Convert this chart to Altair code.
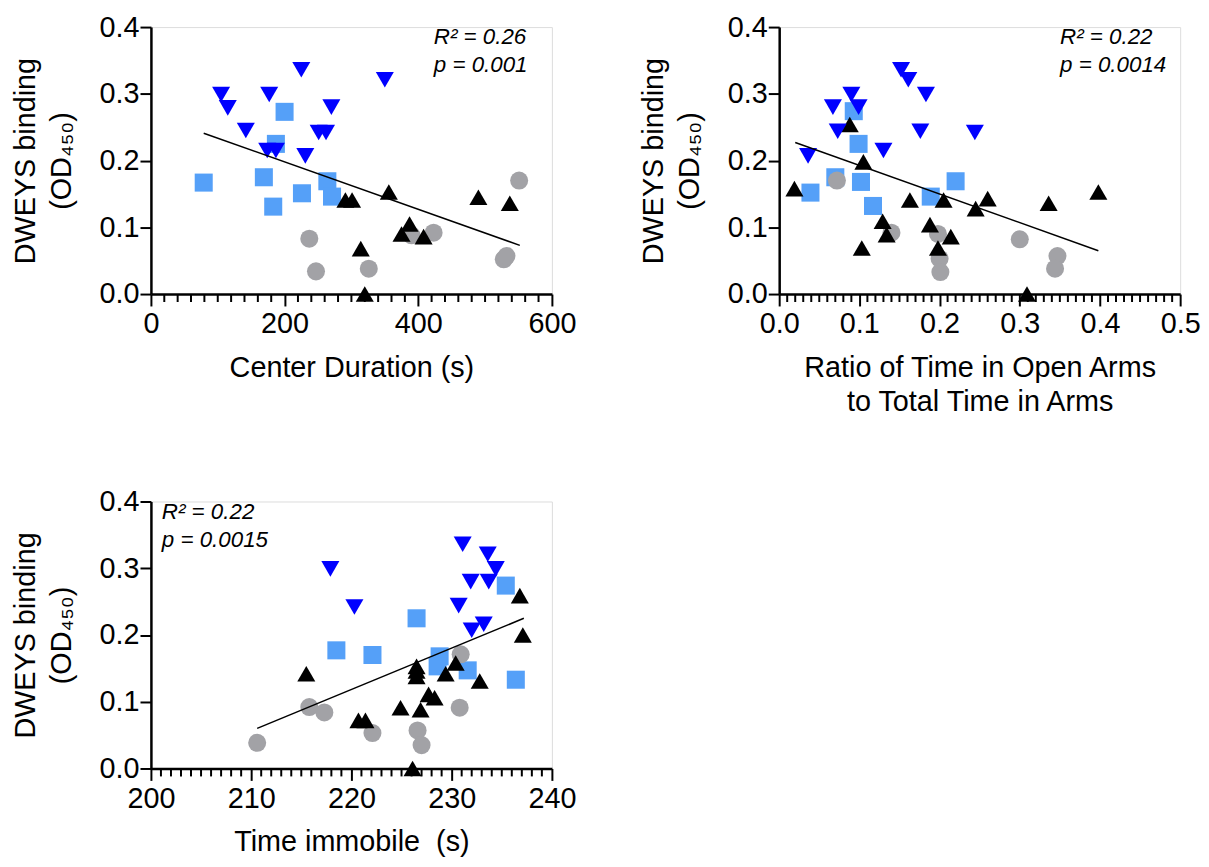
import altair as alt
import pandas as pd

FONT = "Liberation Sans"

# ---------------- Panel 1: Center Duration ----------------
p1_blue_x = [105, 115, 142, 177, 174, 187, 225, 231, 251, 262, 270, 350]
p1_blue_y = [0.299, 0.279, 0.245, 0.299, 0.215, 0.215, 0.336, 0.207, 0.242, 0.242, 0.280, 0.321]
p1_sq_x = [79, 200, 187, 169, 183, 226, 264, 271]
p1_sq_y = [0.167, 0.273, 0.225, 0.175, 0.131, 0.151, 0.169, 0.146]
p1_tri_x = [291, 301, 356, 314, 320, 387, 375, 408, 490, 537]
p1_tri_y = [0.141, 0.141, 0.153, 0.068, 0.0, 0.105, 0.090, 0.086, 0.145, 0.136]
p1_cir_x = [237, 247, 326, 390, 423, 551, 528, 532]
p1_cir_y = [0.083, 0.034, 0.038, 0.088, 0.092, 0.170, 0.052, 0.057]
p1_fit_x = [79, 552]
p1_fit_y = [0.241, 0.073]
p1_text = ["R² = 0.26", "p = 0.001"]
p1_major = [0, 200, 400, 600]
p1_minor_step = 20

# ---------------- Panel 2: Ratio open arms ----------------
p2_blue_x = [0.152, 0.161, 0.090, 0.067, 0.099, 0.183, 0.073, 0.176, 0.244, 0.130, 0.036]
p2_blue_y = [0.336, 0.321, 0.299, 0.280, 0.280, 0.299, 0.244, 0.244, 0.242, 0.215, 0.207]
p2_sq_x = [0.093, 0.099, 0.070, 0.039, 0.102, 0.117, 0.189, 0.220]
p2_sq_y = [0.274, 0.225, 0.175, 0.152, 0.168, 0.132, 0.146, 0.169]
p2_tri_x = [0.019, 0.088, 0.105, 0.103, 0.129, 0.134, 0.163, 0.188,
            0.198, 0.205, 0.214, 0.245, 0.260, 0.309, 0.336, 0.398]
p2_tri_y = [0.158, 0.254, 0.198, 0.069, 0.109, 0.089, 0.141, 0.104,
            0.069, 0.141, 0.086, 0.128, 0.143, 0.0, 0.136, 0.153]
p2_cir_x = [0.072, 0.140, 0.198, 0.200, 0.201, 0.300, 0.347, 0.344]
p2_cir_y = [0.170, 0.092, 0.090, 0.053, 0.033, 0.082, 0.057, 0.038]
p2_fit_x = [0.020, 0.398]
p2_fit_y = [0.227, 0.065]
p2_text = ["R² = 0.22", "p = 0.0014"]
p2_major = [0.0, 0.1, 0.2, 0.3, 0.4, 0.5]
p2_minor_step = 0.01

# ---------------- Panel 3: Time immobile ----------------
p3_blue_x = [217.9, 220.3, 231.1, 233.6, 234.4, 231.9, 233.7, 230.7, 232.0, 233.2]
p3_blue_y = [0.299, 0.242, 0.336, 0.321, 0.299, 0.280, 0.280, 0.244, 0.207, 0.216]
p3_sq_x = [218.5, 222.1, 226.5, 228.8, 228.6, 231.6, 235.4, 236.4]
p3_sq_y = [0.177, 0.170, 0.225, 0.168, 0.153, 0.147, 0.274, 0.133]
p3_tri_x = [215.5, 220.7, 221.4, 224.9, 226.5, 226.5, 226.5, 226.1,
            226.9, 227.7, 228.3, 229.4, 230.4, 232.8, 236.8, 237.1]
p3_tri_y = [0.142, 0.072, 0.072, 0.091, 0.153, 0.146, 0.138, 0.0,
            0.088, 0.111, 0.106, 0.142, 0.158, 0.131, 0.259, 0.200]
p3_cir_x = [210.6, 215.8, 217.3, 222.1, 226.6, 227.0, 230.8, 230.9]
p3_cir_y = [0.0385, 0.092, 0.084, 0.053, 0.057, 0.035, 0.091, 0.171]
p3_fit_x = [210.6, 237.2]
p3_fit_y = [0.060, 0.225]
p3_text = ["R² = 0.22", "p = 0.0015"]
p3_major = [200, 210, 220, 230, 240]
p3_minor_step = 1

groups = ["square", "circle", "tri_up", "tri_down"]
colors = ["#55a0f8", "#a2a2a6", "#000000", "#0000ff"]
shapes = ["square", "circle", "triangle-up", "triangle-down"]

y_title = ["DWEYS binding", "(OD₄₅₀)"]
y_ticks = [0.0, 0.1, 0.2, 0.3, 0.4]

W, H = 404, 269


def make_df(sq, cir, tri, blue):
    rows = []
    for g, (xs, ys) in zip(groups, [sq, cir, tri, blue]):
        for a, b in zip(xs, ys):
            rows.append({"x": a, "y": b, "g": g})
    return pd.DataFrame(rows)


def minor_ticks(major, step):
    vals = []
    n = int(round((major[-1] - major[0]) / step))
    for i in range(n + 1):
        v = round(major[0] + i * step, 6)
        if all(abs(v - m) > step / 10 for m in major):
            vals.append(v)
    return vals


def panel(df, fit_x, fit_y, domain, major, step, fmt, xtitle, text, tx, ty):
    x_axis = alt.Axis(
        values=major,
        tickSize=12,
        format=fmt,
        title=xtitle,
        grid=False,
        domainColor="black",
        domainWidth=2.5,
        tickColor="black",
        tickWidth=2,
        labelFont=FONT,
        labelFontSize=29,
        labelColor="black",
        labelPadding=4,
        labelOverlap=False,
        labelFlush=False,
        titleFont=FONT,
        titleFontSize=29,
        titleFontWeight="normal",
        titleColor="black",
        titlePadding=15,
        titleLineHeight=34,
    )
    y_axis = alt.Axis(
        values=y_ticks,
        format=".1f",
        title=y_title,
        grid=False,
        domainColor="black",
        domainWidth=2.5,
        tickColor="black",
        tickWidth=2,
        tickSize=11,
        labelFont=FONT,
        labelFontSize=29,
        labelColor="black",
        labelPadding=1,
        labelFlush=False,
        labelOverlap=False,
        titleFont=FONT,
        titleFontSize=29,
        titleFontWeight="normal",
        titleColor="black",
        titlePadding=23,
        titleLineHeight=36,
    )
    xs = alt.Scale(domain=domain, nice=False, zero=False)
    ys = alt.Scale(domain=[0, 0.4], nice=False)

    pts = alt.Chart(df).mark_point(filled=True, size=330, opacity=1, strokeWidth=0).encode(
        x=alt.X("x:Q", scale=xs, axis=x_axis),
        y=alt.Y("y:Q", scale=ys, axis=y_axis),
        color=alt.Color("g:N", scale=alt.Scale(domain=groups, range=colors), legend=None),
        shape=alt.Shape("g:N", scale=alt.Scale(domain=groups, range=shapes), legend=None),
    )
    minors = alt.Chart(pd.DataFrame({"x": minor_ticks(major, step)})).mark_rule(
        color="black", strokeWidth=2
    ).encode(
        x=alt.X("x:Q", scale=xs),
        y=alt.value(H),
        y2=alt.value(H + 8),
    )
    fit = alt.Chart(pd.DataFrame({"x": fit_x, "y": fit_y})).mark_line(
        color="black", strokeWidth=1.5
    ).encode(x=alt.X("x:Q", scale=xs), y=alt.Y("y:Q", scale=ys))
    txt = alt.Chart(pd.DataFrame({"a": [0]})).mark_text(
        text=text, align="left", baseline="alphabetic", font=FONT, fontSize=22.5,
        fontStyle="italic", lineHeight=28, color="black"
    ).encode(x=alt.value(tx), y=alt.value(ty))
    return alt.layer(pts, minors, fit, txt).properties(width=W, height=H)


c1 = panel(make_df((p1_sq_x, p1_sq_y), (p1_cir_x, p1_cir_y), (p1_tri_x, p1_tri_y), (p1_blue_x, p1_blue_y)),
           p1_fit_x, p1_fit_y, [0, 600], p1_major, p1_minor_step, "d",
           "Center Duration (s)", p1_text, 285, 17)
c2 = panel(make_df((p2_sq_x, p2_sq_y), (p2_cir_x, p2_cir_y), (p2_tri_x, p2_tri_y), (p2_blue_x, p2_blue_y)),
           p2_fit_x, p2_fit_y, [0, 0.5], p2_major, p2_minor_step, ".1f",
           ["Ratio of Time in Open Arms", "to Total Time in Arms"], p2_text, 283, 17)
c3 = panel(make_df((p3_sq_x, p3_sq_y), (p3_cir_x, p3_cir_y), (p3_tri_x, p3_tri_y), (p3_blue_x, p3_blue_y)),
           p3_fit_x, p3_fit_y, [200, 240], p3_major, p3_minor_step, "d",
           "Time immobile\u00a0 (s)", p3_text, 11, 18)

chart = alt.vconcat(
    alt.hconcat(c1, c2, spacing=63),
    c3,
    spacing=70,
).properties(
    padding={"left": 3, "top": 1, "right": 0, "bottom": 0}
).configure_view(stroke=None).configure(font=FONT, background="white")

chart.save("out.html", embed_options={"renderer": "svg", "actions": False})
